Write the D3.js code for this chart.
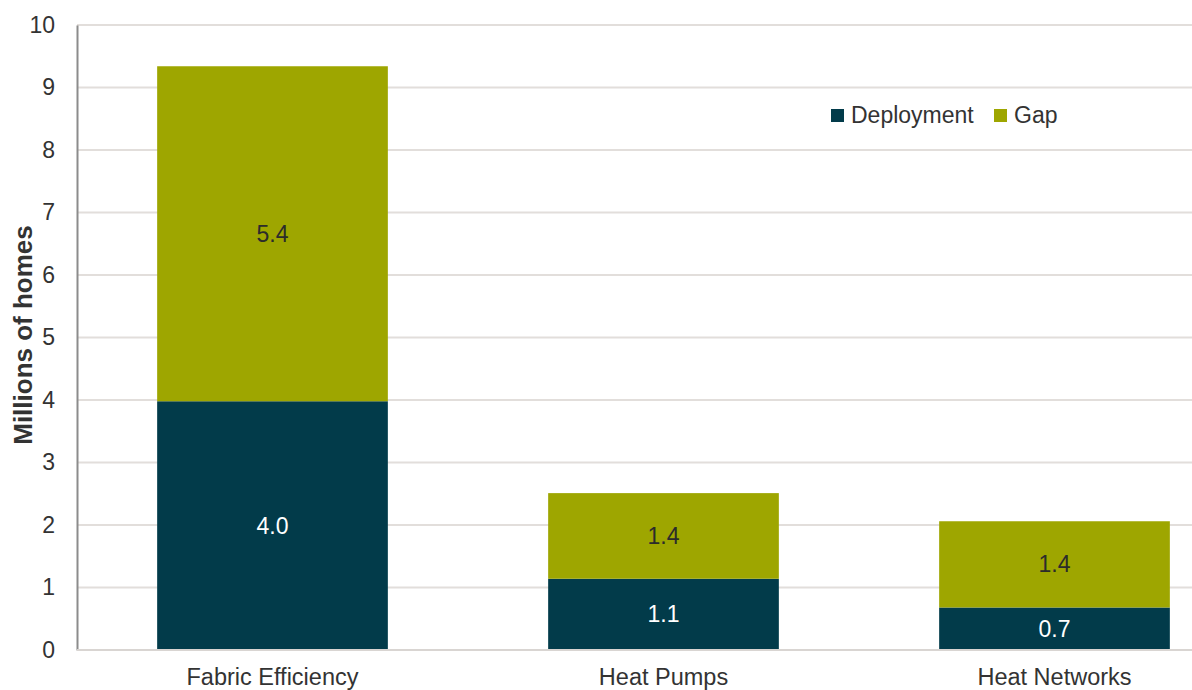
<!DOCTYPE html>
<html><head><meta charset="utf-8">
<script src="https://cdn.jsdelivr.net/npm/d3@7"></script>
<style>body{margin:0;background:#fff;}svg{display:block;font-family:"Liberation Sans",Arial,sans-serif;}</style>
</head><body>
<svg id="c" width="1192" height="690"></svg>
<script>
const categories = ["Fabric Efficiency", "Heat Pumps", "Heat Networks"];
const deployment = [3.98, 1.14, 0.68];
const gap = [5.36, 1.37, 1.38];
const yTicks = [0,1,2,3,4,5,6,7,8,9,10];
const seriesNames = ["Deployment", "Gap"];
const colors = ["#023b4a", "#9ea600"];

(function(){
const svg = d3.select("#c");
const mLeft = 77, mTop = 25, mBottom = 650;
const x = d3.scaleBand().domain(categories).range([mLeft, mLeft + 3*391]).paddingInner(0.41).paddingOuter(0.205);
const y = d3.scaleLinear().domain([0,10]).range([mBottom, mTop]);

// gridlines
svg.append("g").selectAll("line").data(yTicks).join("line")
  .attr("x1", mLeft).attr("x2", 1192)
  .attr("y1", d=>y(d)).attr("y2", d=>y(d))
  .attr("stroke", "#e2dedb").attr("stroke-width", 2);

// y axis
const yAxis = d3.axisLeft(y).tickValues(yTicks).tickSize(0).tickPadding(22).tickFormat(d3.format("d"));
const ga = svg.append("g").attr("transform", `translate(${mLeft},0)`).call(yAxis);
ga.select(".domain").attr("stroke", "#8c8c8c").attr("stroke-width", 2);
ga.selectAll("text").attr("font-size", 23).attr("fill", "#333").attr("font-family", "Liberation Sans, Arial, sans-serif");

// stacked data
const rows = categories.map((c,i)=>({cat:c, Deployment:deployment[i], Gap:gap[i]}));
const stack = d3.stack().keys(seriesNames)(rows);

const layers = svg.append("g").selectAll("g").data(stack).join("g").attr("fill", (d,i)=>colors[i]);
layers.selectAll("rect").data(d=>d).join("rect")
  .attr("x", d=>x(d.data.cat)).attr("width", x.bandwidth())
  .attr("y", d=>y(d[1])).attr("height", d=>y(d[0])-y(d[1]));

// value labels
stack.forEach((s,si)=>{
  svg.append("g").selectAll("text").data(s).join("text")
    .attr("x", d=>x(d.data.cat)+x.bandwidth()/2)
    .attr("y", d=>(y(d[0])+y(d[1]))/2 + 8)
    .attr("text-anchor","middle").attr("font-size",23)
    .attr("fill", si===0 ? "#ffffff" : "#2b2b2b")
    .text(d=>(d[1]-d[0]).toFixed(1));
});

// x axis baseline
svg.append("line").attr("x1", mLeft).attr("x2", 1192).attr("y1", mBottom).attr("y2", mBottom)
  .attr("stroke", "#d9d5d2").attr("stroke-width", 2);

// category labels
svg.append("g").selectAll("text").data(categories).join("text")
  .attr("x", d=>x(d)+x.bandwidth()/2).attr("y", 685)
  .attr("text-anchor","middle").attr("font-size",23.5).attr("fill","#333")
  .text(d=>d);

// y title
svg.append("text").attr("transform","translate(32,335) rotate(-90)")
  .attr("text-anchor","middle").attr("font-size",26).attr("font-weight","bold").attr("fill","#333")
  .text("Millions of homes");

// legend
const legX = [831, 994];
const lg = svg.append("g");
seriesNames.forEach((n,i)=>{
  lg.append("rect").attr("x", legX[i]).attr("y", 109).attr("width", 13).attr("height", 13).attr("fill", colors[i]);
  lg.append("text").attr("x", legX[i]+20).attr("y", 123).attr("font-size", 23).attr("fill","#333").text(n);
});
})();
</script>
</body></html>
